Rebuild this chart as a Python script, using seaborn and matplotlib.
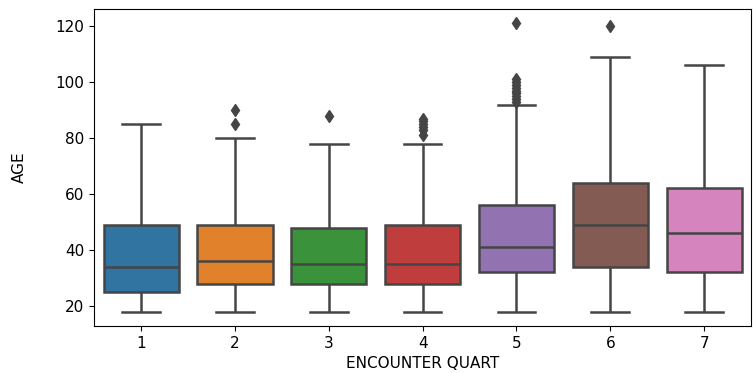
import numpy as np
import pandas as pd
import matplotlib
matplotlib.use("Agg")
import matplotlib.pyplot as plt
import seaborn as sns

# box stats, one entry per ENCOUNTER QUART
quarts = [1, 2, 3, 4, 5, 6, 7]
whisker_lo = [18, 18, 18, 18, 18, 18, 18]
q1 = [25, 28, 28, 28, 32, 34, 32]
median = [34, 36, 35, 35, 41, 49, 46]
q3 = [49, 49, 48, 49, 56, 64, 62]
whisker_hi = [85, 80, 78, 78, 92, 109, 106]
outliers = [
    [],
    [85, 90],
    [88],
    [81, 83, 84, 85, 86, 87],
    [93, 94, 95, 96, 97, 98, 99, 100, 101, 121],
    [120],
    [],
]

# rebuild a sample per group whose quartiles / whiskers give the same boxes
rows = []
for i, k in enumerate(quarts):
    vals = ([whisker_lo[i]] + [q1[i]] * 15 + [median[i]] * 15 + [q3[i]] * 15
            + [whisker_hi[i]] + outliers[i])
    rows += [(k, v) for v in vals]
df = pd.DataFrame(rows, columns=["ENCOUNTER QUART", "AGE"])

gray = (0.27, 0.27, 0.27)

fig = plt.figure(figsize=(7.54, 3.73), dpi=100)
ax = fig.add_axes([0.125, 0.126, 0.871, 0.850])
sns.boxplot(data=df, x="ENCOUNTER QUART", y="AGE", hue="ENCOUNTER QUART",
            palette="tab10", legend=False, linewidth=1.8, linecolor=gray,
            flierprops={"marker": "d", "markerfacecolor": gray,
                        "markeredgecolor": gray, "markersize": 6},
            ax=ax)
ax.tick_params(labelsize=11)
ax.set_xlabel("ENCOUNTER QUART", fontsize=11)
ax.set_ylabel("AGE", fontsize=11)
ax.yaxis.set_label_coords(-0.102, 0.5)

fig.savefig("out.png", dpi=100)
